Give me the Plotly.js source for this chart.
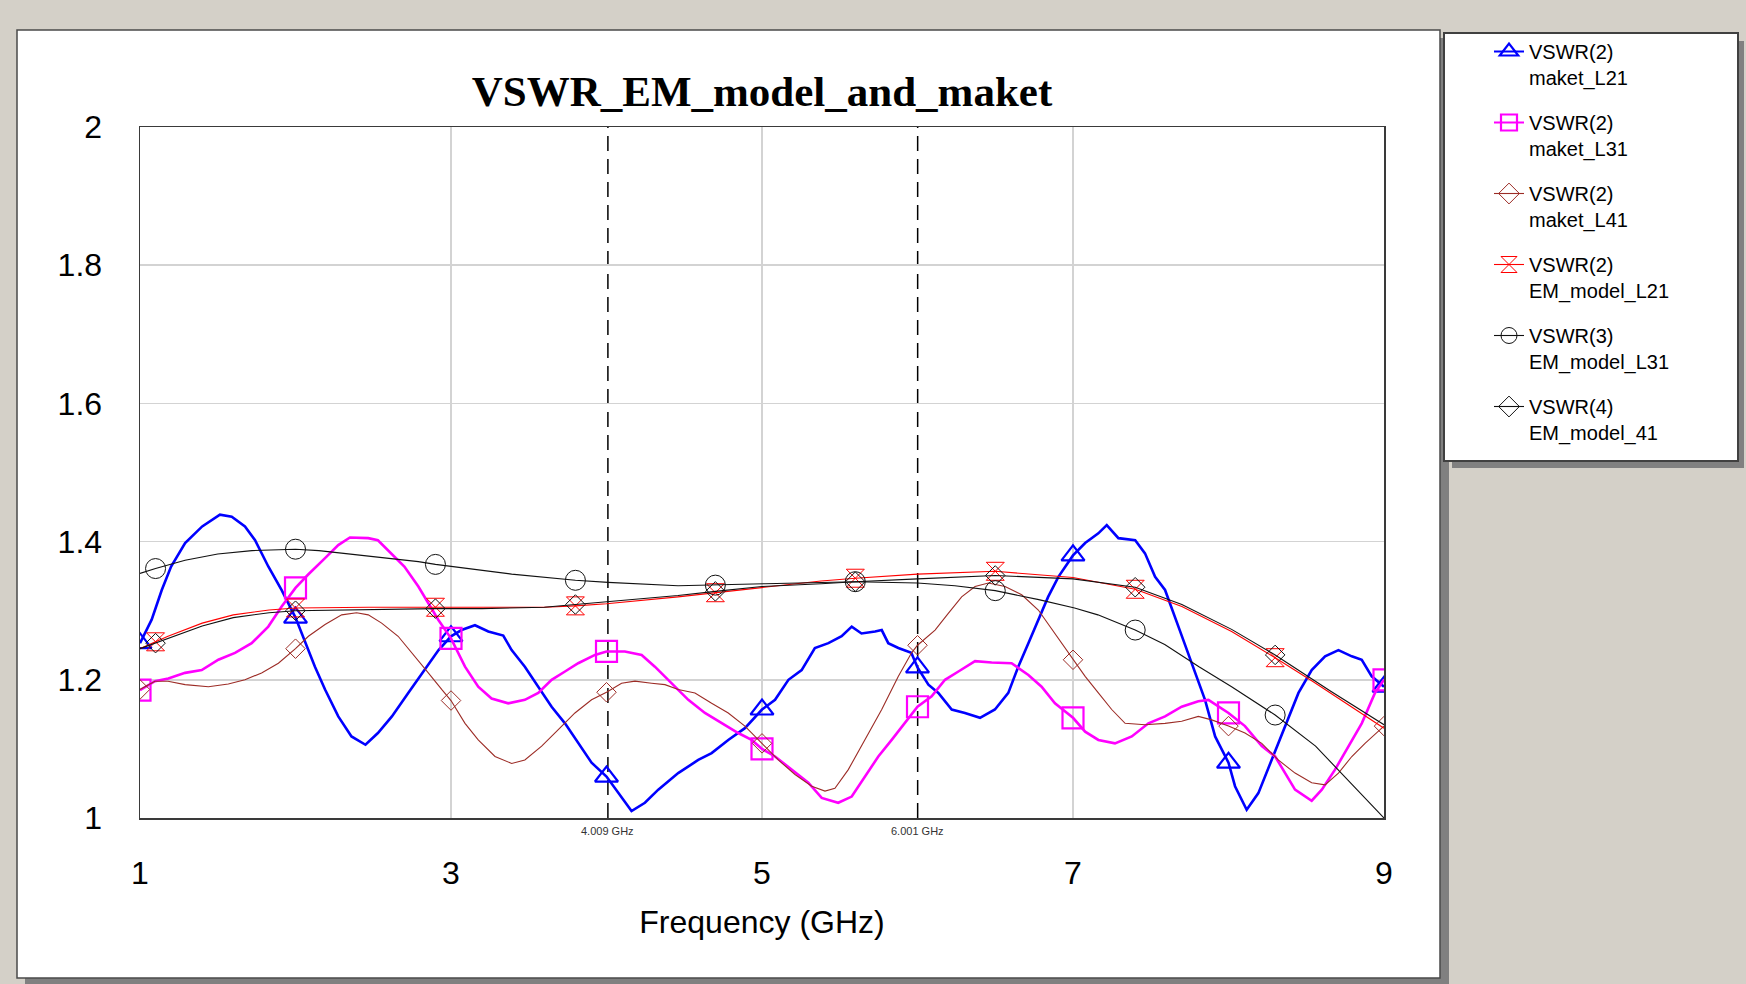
<!DOCTYPE html>
<html>
<head>
<meta charset="utf-8">
<script src="https://cdn.plot.ly/plotly-3.0.1.min.js"></script>
<style>
html,body{margin:0;padding:0;background:#d4d0c8;}
#chart{width:1746px;height:984px;}
</style>
</head>
<body>
<div id="chart"></div>
<script>
// ---------------- DATA ----------------
const chartTitle = 'VSWR_EM_model_and_maket';
const xTitle = 'Frequency (GHz)';
const seriesNames = [
  'VSWR(2)<br>maket_L21',
  'VSWR(2)<br>maket_L31',
  'VSWR(2)<br>maket_L41',
  'VSWR(2)<br>EM_model_L21',
  'VSWR(3)<br>EM_model_L31',
  'VSWR(4)<br>EM_model_41'
];
const markerLineFreqs = [4.009, 6.001];
const maketMarkerFreqs = [1, 2, 3, 4, 5, 6, 7, 8, 9];
const emMarkerFreqs = [1.1, 2.0, 2.9, 3.8, 4.7, 5.6, 6.5, 7.4, 8.3];

// maket_L21 (blue)
const l21F = [1.0, 1.075, 1.14, 1.2, 1.29, 1.4, 1.514, 1.59, 1.675, 1.74,
  1.825, 1.91, 2.0, 2.04, 2.125, 2.19, 2.275, 2.36, 2.45, 2.53,
  2.62, 2.725, 2.83, 2.92, 3.0, 3.068, 3.154, 3.24, 3.336, 3.39,
  3.475, 3.561, 3.647, 3.733, 3.818, 3.904, 4.0, 4.076, 4.161, 4.247,
  4.333, 4.461, 4.59, 4.676, 4.783, 4.89, 5.0, 5.084, 5.17, 5.255,
  5.34, 5.427, 5.512, 5.577, 5.64, 5.727, 5.77, 5.812, 5.877, 5.96,
  6.0, 6.07, 6.134, 6.22, 6.305, 6.402, 6.498, 6.584, 6.648, 6.713,
  6.777, 6.84, 6.906, 7.0, 7.078, 7.163, 7.217, 7.292, 7.4, 7.463,
  7.528, 7.592, 7.678, 7.764, 7.849, 7.914, 8.0, 8.042, 8.117, 8.192,
  8.278, 8.364, 8.45, 8.535, 8.621, 8.707, 8.793, 8.857, 8.921, 9.0];
const l21V = [1.253, 1.287, 1.330, 1.364, 1.398, 1.422, 1.439, 1.436, 1.422, 1.402,
  1.364, 1.330, 1.290, 1.267, 1.219, 1.186, 1.147, 1.118, 1.106, 1.123,
  1.147, 1.181, 1.214, 1.243, 1.263, 1.272, 1.279, 1.270, 1.264, 1.243,
  1.219, 1.190, 1.161, 1.137, 1.108, 1.080, 1.060, 1.036, 1.010, 1.022,
  1.041, 1.065, 1.084, 1.094, 1.113, 1.130, 1.157, 1.171, 1.200, 1.214,
  1.246, 1.253, 1.263, 1.277, 1.267, 1.270, 1.272, 1.253, 1.246, 1.239,
  1.218, 1.193, 1.181, 1.157, 1.152, 1.145, 1.157, 1.181, 1.219, 1.253,
  1.287, 1.320, 1.349, 1.380, 1.398, 1.412, 1.424, 1.405, 1.402, 1.383,
  1.349, 1.330, 1.277, 1.224, 1.171, 1.118, 1.080, 1.046, 1.012, 1.036,
  1.084, 1.133, 1.181, 1.214, 1.234, 1.243, 1.234, 1.229, 1.205, 1.190];

// maket_L31 (magenta)
const l31F = [1.0, 1.096, 1.182, 1.29, 1.397, 1.504, 1.611, 1.718, 1.825, 1.911,
  2.0, 2.08, 2.19, 2.275, 2.35, 2.468, 2.53, 2.617, 2.70, 2.79,
  2.854, 2.918, 3.0, 3.09, 3.175, 3.261, 3.368, 3.475, 3.561, 3.647,
  3.733, 3.818, 3.926, 4.0, 4.118, 4.226, 4.311, 4.419, 4.526, 4.633,
  4.74, 4.847, 4.933, 5.0, 5.084, 5.19, 5.298, 5.384, 5.49, 5.577,
  5.662, 5.748, 5.834, 5.92, 6.0, 6.091, 6.177, 6.263, 6.37, 6.477,
  6.605, 6.713, 6.798, 6.884, 7.0, 7.078, 7.163, 7.27, 7.378, 7.485,
  7.592, 7.699, 7.806, 7.871, 8.0, 8.106, 8.214, 8.30, 8.364, 8.428,
  8.535, 8.60, 8.685, 8.771, 8.857, 8.942, 9.0];
const l31V = [1.185, 1.198, 1.202, 1.210, 1.214, 1.229, 1.239, 1.253, 1.277, 1.306,
  1.333, 1.352, 1.376, 1.395, 1.406, 1.405, 1.402, 1.383, 1.364, 1.335,
  1.311, 1.287, 1.260, 1.219, 1.190, 1.173, 1.166, 1.171, 1.181, 1.200,
  1.212, 1.224, 1.236, 1.241, 1.241, 1.236, 1.219, 1.195, 1.171, 1.152,
  1.137, 1.123, 1.113, 1.100, 1.089, 1.070, 1.051, 1.029, 1.022, 1.031,
  1.060, 1.089, 1.113, 1.137, 1.161, 1.176, 1.200, 1.212, 1.227, 1.225,
  1.224, 1.207, 1.190, 1.166, 1.145, 1.125, 1.113, 1.108, 1.118, 1.137,
  1.147, 1.161, 1.169, 1.171, 1.152, 1.133, 1.104, 1.089, 1.065, 1.041,
  1.025, 1.041, 1.070, 1.104, 1.137, 1.181, 1.200];

// maket_L41 (brown)
const l41F = [1.0, 1.096, 1.18, 1.29, 1.44, 1.568, 1.675, 1.782, 1.89, 2.0,
  2.083, 2.19, 2.297, 2.393, 2.468, 2.554, 2.66, 2.768, 2.854, 2.94,
  3.0, 3.09, 3.175, 3.283, 3.39, 3.475, 3.583, 3.69, 3.797, 3.904,
  4.0, 4.097, 4.183, 4.29, 4.376, 4.461, 4.569, 4.676, 4.783, 4.89,
  5.0, 5.105, 5.212, 5.32, 5.405, 5.469, 5.555, 5.662, 5.77, 5.877,
  5.962, 6.0, 6.113, 6.198, 6.284, 6.37, 6.456, 6.563, 6.67, 6.777,
  6.884, 7.0, 7.078, 7.163, 7.249, 7.335, 7.463, 7.592, 7.699, 7.806,
  7.892, 8.0, 8.106, 8.214, 8.32, 8.428, 8.535, 8.621, 8.707, 8.793,
  8.878, 9.0];
const l41V = [1.186, 1.198, 1.198, 1.193, 1.190, 1.194, 1.200, 1.210, 1.224, 1.245,
  1.263, 1.280, 1.294, 1.297, 1.294, 1.282, 1.263, 1.234, 1.210, 1.186,
  1.170, 1.137, 1.113, 1.089, 1.079, 1.084, 1.104, 1.128, 1.152, 1.171,
  1.182, 1.195, 1.198, 1.195, 1.193, 1.186, 1.181, 1.166, 1.152, 1.133,
  1.108, 1.084, 1.063, 1.046, 1.039, 1.043, 1.070, 1.113, 1.157, 1.205,
  1.239, 1.250, 1.272, 1.296, 1.320, 1.335, 1.340, 1.335, 1.323, 1.301,
  1.267, 1.229, 1.205, 1.181, 1.157, 1.137, 1.135, 1.137, 1.140, 1.147,
  1.142, 1.133, 1.123, 1.108, 1.084, 1.065, 1.051, 1.048, 1.065, 1.089,
  1.108, 1.133];

// EM_model_L21 (red)
const emL21F = [1.0, 1.1, 1.18, 1.4, 1.6, 1.83, 2.0, 2.47, 2.9, 3.2,
  3.6, 3.8, 4.0, 4.46, 4.7, 5.0, 5.38, 5.6, 6.0, 6.5,
  7.0, 7.4, 7.7, 8.02, 8.3, 8.54, 8.66, 9.0];
const emL21V = [1.245, 1.255, 1.263, 1.282, 1.294, 1.301, 1.304, 1.305, 1.305, 1.305,
  1.305, 1.307, 1.310, 1.320, 1.326, 1.334, 1.343, 1.347, 1.353, 1.357,
  1.348, 1.331, 1.306, 1.270, 1.232, 1.198, 1.180, 1.130];

// EM_model_L31 (black, circles)
const emL31F = [1.0, 1.1, 1.29, 1.5, 1.72, 1.93, 2.0, 2.15, 2.36, 2.58,
  2.79, 2.9, 3.0, 3.39, 3.8, 4.01, 4.46, 4.7, 5.02, 5.6,
  6.0, 6.24, 6.5, 6.78, 7.01, 7.16, 7.4, 7.59, 7.81, 8.02,
  8.3, 8.56, 8.77, 9.0];
const emL31V = [1.354, 1.361, 1.373, 1.382, 1.387, 1.389, 1.389, 1.387, 1.382, 1.377,
  1.371, 1.367, 1.364, 1.353, 1.344, 1.341, 1.336, 1.337, 1.339, 1.342,
  1.340, 1.336, 1.329, 1.316, 1.304, 1.294, 1.272, 1.251, 1.219, 1.190,
  1.149, 1.104, 1.055, 1.000];

// EM_model_41 (black, diamonds)
const em41F = [1.0, 1.1, 1.18, 1.4, 1.6, 1.83, 2.0, 2.47, 2.9, 3.2,
  3.6, 3.8, 4.0, 4.46, 4.7, 5.0, 5.38, 5.6, 6.0, 6.5,
  7.0, 7.4, 7.7, 8.02, 8.3, 8.66, 9.0];
const em41V = [1.245, 1.253, 1.260, 1.278, 1.290, 1.297, 1.300, 1.302, 1.303, 1.303,
  1.305, 1.309, 1.313, 1.322, 1.328, 1.335, 1.339, 1.342, 1.346, 1.351,
  1.346, 1.334, 1.309, 1.273, 1.236, 1.183, 1.135];

// ---------------- STYLE / LAYOUT ----------------
const W = 1746, H = 984;
const mL = 140, mR = 362, mT = 127, mB = 166;
const pw = W - mL - mR, ph = H - mT - mB;
const px2x = p => (p - mL) / pw;
const px2y = p => (H - mB - p) / ph;

function pick(F, V, M) {
  const xs = [], ys = [];
  F.forEach((f, i) => {
    if (M.some(m => Math.abs(m - f) < 1e-9)) { xs.push(f); ys.push(V[i]); }
  });
  return {x: xs, y: ys};
}

const series = [
  {F: l21F, V: l21V, M: maketMarkerFreqs, color: '#0000ff', lw: 2.6, sym: 'triangle-up-open', ms: 20, mlw: 2.2},
  {F: l31F, V: l31V, M: maketMarkerFreqs, color: '#ff00ff', lw: 2.6, sym: 'square-open', ms: 21, mlw: 2.2},
  {F: l41F, V: l41V, M: maketMarkerFreqs, color: '#9c2c26', lw: 1.1, sym: 'diamond-open', ms: 15, mlw: 1},
  {F: emL21F, V: emL21V, M: emMarkerFreqs, color: '#ff0000', lw: 1.1, sym: 'hourglass-open', ms: 18, mlw: 1},
  {F: emL31F, V: emL31V, M: emMarkerFreqs, color: '#111111', lw: 1.1, sym: 'circle-open', ms: 20, mlw: 1},
  {F: em41F, V: em41V, M: emMarkerFreqs, color: '#111111', lw: 1.1, sym: 'diamond-open', ms: 15, mlw: 1}
];

const traces = [];
series.forEach((s, k) => {
  traces.push({
    type: 'scatter', mode: 'lines', x: s.F, y: s.V, showlegend: false,
    line: {color: s.color, width: s.lw, shape: 'linear'}, hoverinfo: 'skip'
  });
  const m = pick(s.F, s.V, s.M);
  traces.push({
    type: 'scatter', mode: 'markers', x: m.x, y: m.y, showlegend: false,
    marker: {symbol: s.sym, size: s.ms, color: s.color, line: {color: s.color, width: s.mlw}},
    hoverinfo: 'skip'
  });
});
series.forEach((s, k) => {
  traces.push({
    type: 'scatter', mode: 'lines+markers', x: [null], y: [null],
    name: seriesNames[k], legendgroup: 'g' + k, showlegend: true,
    line: {color: s.color, width: Math.min(s.lw, 2)},
    marker: {symbol: s.sym, size: 16, color: s.color, line: {color: s.color, width: s.mlw}}
  });
});

const shapes = [
  {type: 'rect', xref: 'paper', yref: 'paper', layer: 'below',
   x0: px2x(25), x1: px2x(1449), y0: px2y(990), y1: px2y(38),
   fillcolor: '#808080', line: {width: 0}},
  {type: 'rect', xref: 'paper', yref: 'paper', layer: 'below',
   x0: px2x(17), x1: px2x(1440), y0: px2y(978), y1: px2y(30),
   fillcolor: '#ffffff', line: {color: '#4a4a4a', width: 1.5}},
  {type: 'rect', xref: 'paper', yref: 'paper', layer: 'below',
   x0: px2x(1452), x1: px2x(1744), y0: px2y(468), y1: px2y(41),
   fillcolor: '#808080', line: {width: 0}},
  {type: 'rect', xref: 'paper', yref: 'paper', layer: 'below',
   x0: px2x(1444), x1: px2x(1738), y0: px2y(461), y1: px2y(33),
   fillcolor: '#ffffff', line: {color: '#404040', width: 2}}
];
markerLineFreqs.forEach(f => {
  shapes.push({type: 'line', xref: 'x', yref: 'paper', layer: 'below',
    x0: f, x1: f, y0: 0, y1: 1, line: {color: '#000000', width: 1.5, dash: '15px,8px'}});
});

const annotations = markerLineFreqs.map(f => ({
  x: f, xref: 'x', y: px2y(831), yref: 'paper', yanchor: 'middle', xanchor: 'center',
  text: f.toFixed(3) + ' GHz', showarrow: false,
  font: {family: 'Liberation Sans, Arial, sans-serif', size: 11, color: '#333333'}
}));

const layout = {
  width: W, height: H,
  margin: {l: mL, r: mR, t: mT, b: mB, pad: 0},
  paper_bgcolor: '#d4d0c8',
  plot_bgcolor: '#ffffff',
  font: {family: 'Liberation Sans, Arial, sans-serif', color: '#000000'},
  title: {
    text: chartTitle, x: 0.5, xref: 'paper', xanchor: 'center',
    y: 1 - 91 / H, yref: 'container', yanchor: 'middle',
    font: {family: 'Liberation Serif, Times New Roman, serif', size: 43, weight: 'bold', color: '#000000'}
  },
  xaxis: {
    range: [1, 9], tick0: 1, dtick: 2, showgrid: true, gridcolor: '#d3d3d3', gridwidth: 1.5,
    zeroline: false, showline: true, mirror: true, linecolor: '#3a3a3a', linewidth: 1.5,
    ticks: '', ticklabelstandoff: 26,
    tickfont: {family: 'Liberation Sans, Arial, sans-serif', size: 32, color: '#000000'},
    title: {text: xTitle, standoff: 20, font: {family: 'Liberation Sans, Arial, sans-serif', size: 32, color: '#000000'}}
  },
  yaxis: {
    range: [1, 2], tick0: 1, dtick: 0.2, showgrid: true, gridcolor: '#d3d3d3', gridwidth: 1.5,
    zeroline: false, showline: true, mirror: true, linecolor: '#3a3a3a', linewidth: 1.5,
    ticks: '', ticklabelstandoff: 30,
    tickfont: {family: 'Liberation Sans, Arial, sans-serif', size: 32, color: '#000000'}
  },
  showlegend: true,
  legend: {
    x: px2x(1489), xanchor: 'left', y: px2y(32), yanchor: 'top',
    bgcolor: 'rgba(0,0,0,0)', borderwidth: 0, valign: 'top',
    traceorder: 'grouped', tracegroupgap: 16,
    font: {family: 'Liberation Sans, Arial, sans-serif', size: 20, color: '#000000'}
  },
  shapes: shapes,
  annotations: annotations
};

Plotly.newPlot('chart', traces, layout, {displayModeBar: false, staticPlot: true});
</script>
</body>
</html>
